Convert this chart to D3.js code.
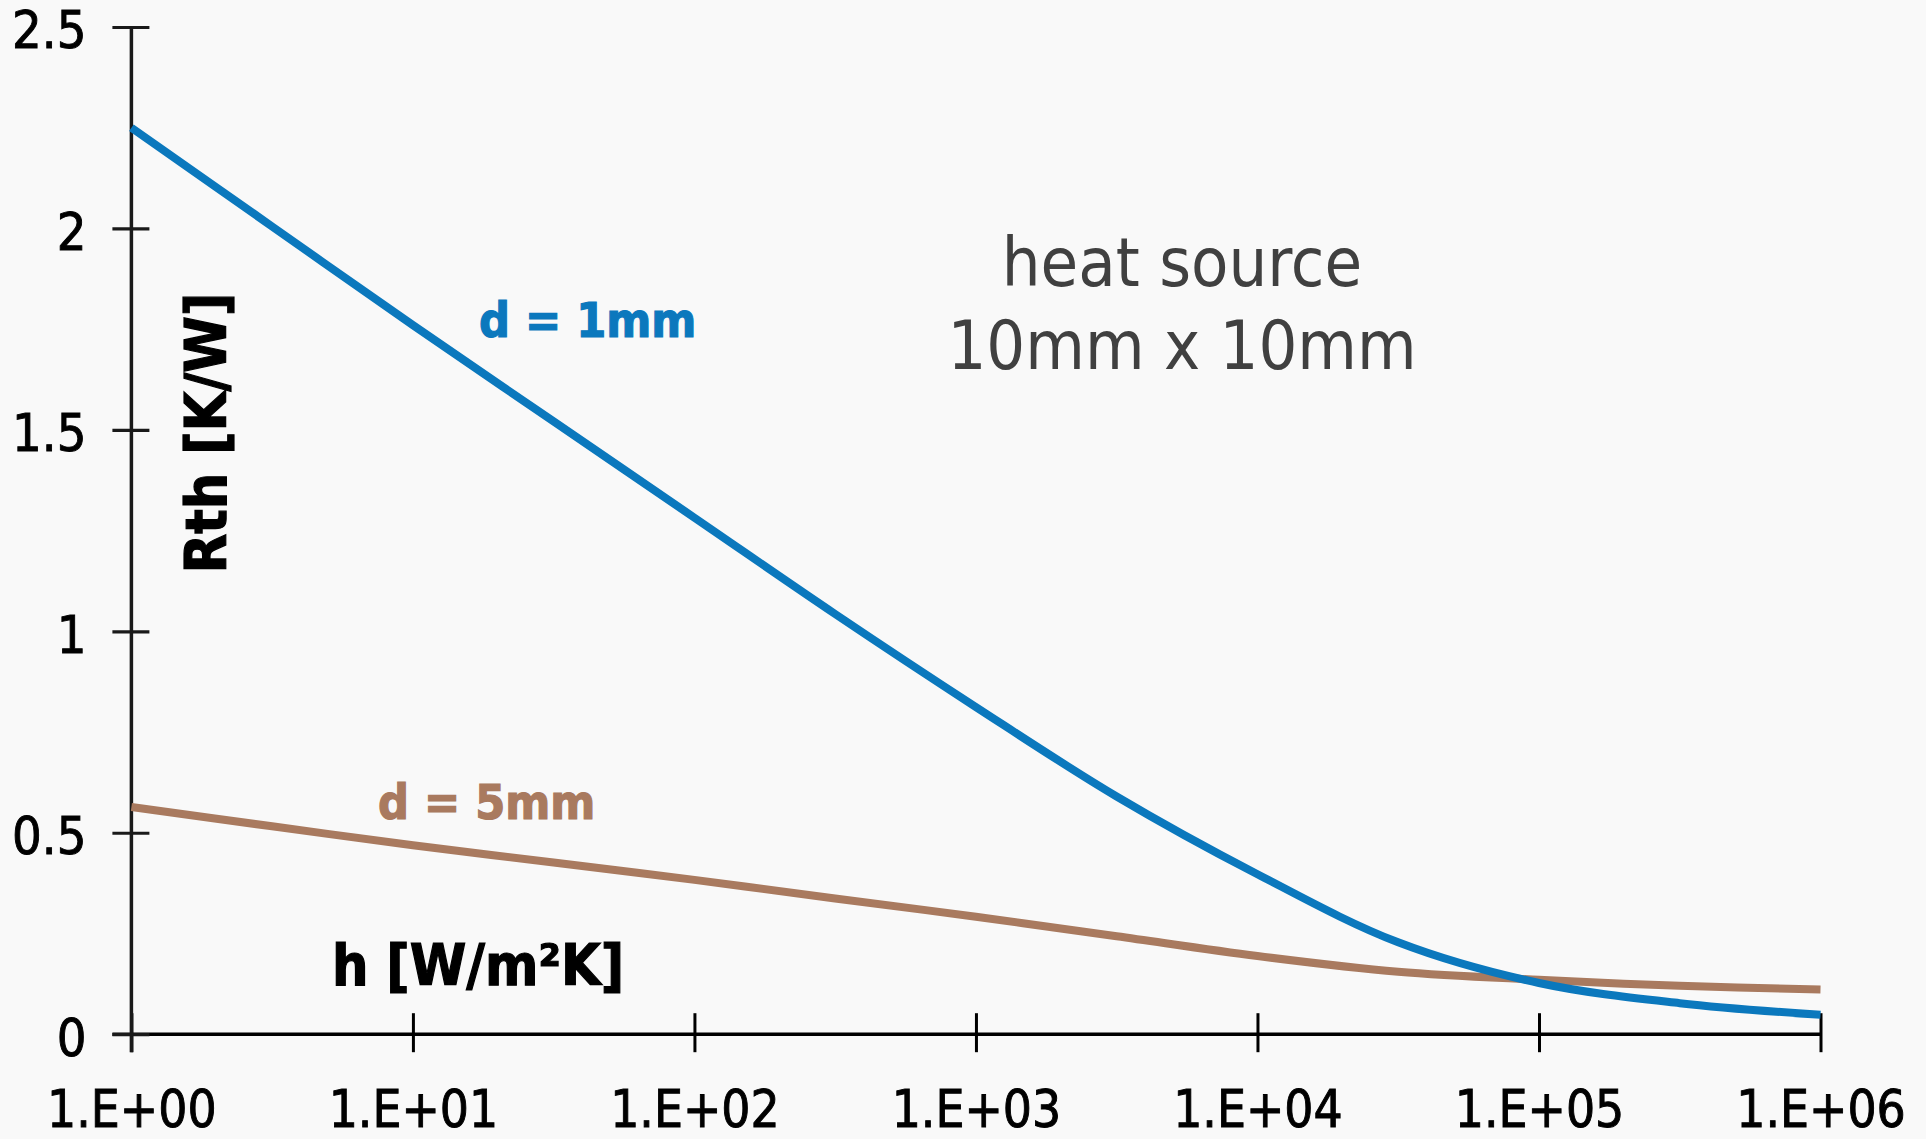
<!DOCTYPE html>
<html>
<head>
<meta charset="utf-8">
<script src="https://cdn.jsdelivr.net/npm/d3@7"></script>
<style>
  html, body { margin: 0; padding: 0; background: #f9f9f9; }
  svg { display: block; }
  text { font-family: "DejaVu Sans Condensed", "DejaVu Sans", Verdana, sans-serif; font-stretch: condensed; }
</style>
</head>
<body>
<svg id="chart" width="1926" height="1139"></svg>
<script>
// Heat transfer coefficient h [W/m²K] (log axis)
const hValues = [1, 3.16, 10, 31.6, 100, 316, 1000, 3160, 1e4, 3.16e4, 1e5, 3.16e5, 1e6];
// Thermal resistance Rth [K/W] for spreader thickness d = 1 mm
const rth1mm = [2.25, 2.005, 1.76, 1.521, 1.282, 1.043, 0.812, 0.59, 0.397, 0.228, 0.127, 0.077, 0.048];
// Thermal resistance Rth [K/W] for spreader thickness d = 5 mm
const rth5mm = [0.564, 0.516, 0.469, 0.426, 0.383, 0.337, 0.2915, 0.243, 0.194, 0.155, 0.135, 0.12, 0.111];

const xTicks = [1, 10, 100, 1000, 1e4, 1e5, 1e6];
const xTickLabels = ["1.E+00", "1.E+01", "1.E+02", "1.E+03", "1.E+04", "1.E+05", "1.E+06"];
const yTicks = [0, 0.5, 1, 1.5, 2, 2.5];
const yTickLabels = ["0", "0.5", "1", "1.5", "2", "2.5"];

const seriesNames = ["d = 1mm", "d = 5mm"];
const seriesColors = ["#0b78bd", "#a97a5f"];

const svg = d3.select("#chart");

const x = d3.scaleLog().domain([1, 1e6]).range([131.4, 1820.5]);
const y = d3.scaleLinear().domain([0, 2.5]).range([1034.2, 27]);

// ---- x axis: ticks crossing the baseline ----
const xAxis = svg.append("g")
  .attr("transform", `translate(0,${y(0)})`)
  .call(d3.axisBottom(x)
    .tickValues(xTicks)
    .tickFormat((d, i) => xTickLabels[i])
    .tickSizeOuter(0));
xAxis.select(".domain").remove();
xAxis.selectAll(".tick line")
  .attr("y1", -21).attr("y2", 18)
  .attr("stroke", "#000").attr("stroke-width", 3);
xAxis.selectAll(".tick text")
  .attr("y", 93).attr("dy", null)
  .attr("fill", "#000")
  .attr("stroke", "#000").attr("stroke-width", 0.9)
  .style("font-size", "51px");
xAxis.append("line")
  .attr("x1", x.range()[0] - 19).attr("x2", x.range()[1] + 1)
  .attr("y1", 0).attr("y2", 0)
  .attr("stroke", "#000").attr("stroke-width", 3.5);

// ---- y axis ----
const yAxis = svg.append("g")
  .attr("transform", `translate(${x(1)},0)`)
  .call(d3.axisLeft(y)
    .tickValues(yTicks)
    .tickFormat((d, i) => yTickLabels[i])
    .tickSizeOuter(0));
yAxis.select(".domain").remove();
yAxis.selectAll(".tick line")
  .attr("x1", -19).attr("x2", 18)
  .attr("stroke", "#1a1a1a").attr("stroke-width", 3.2);
yAxis.selectAll(".tick text")
  .attr("x", -45).attr("dy", "0.4em")
  .attr("fill", "#000")
  .attr("stroke", "#000").attr("stroke-width", 0.9)
  .style("font-size", "52px");
yAxis.append("line")
  .attr("x1", 0).attr("x2", 0)
  .attr("y1", y(2.5)).attr("y2", y(0) + 18)
  .attr("stroke", "#1a1a1a").attr("stroke-width", 3.5);

svg.selectAll(".tick text").attr("font-family", null);

// ---- curves ----
const line = d3.line()
  .x(d => x(d[0]))
  .y(d => y(d[1]))
  .curve(d3.curveCatmullRom.alpha(0.5));

const series = [rth1mm, rth5mm];
// d = 5mm is drawn first so the blue curve lies on top at the crossing
[1, 0].forEach(k => {
  svg.append("path")
    .datum(hValues.map((h, i) => [h, series[k][i]]))
    .attr("fill", "none")
    .attr("stroke", seriesColors[k])
    .attr("stroke-width", 8)
    .attr("d", line);
});

// ---- series labels ----
svg.append("text")
  .attr("x", 479).attr("y", 337)
  .attr("fill", seriesColors[0])
  .attr("stroke", seriesColors[0]).attr("stroke-width", 1.2)
  .style("font-size", "48px").style("font-weight", "bold")
  .text(seriesNames[0]);
svg.append("text")
  .attr("x", 378).attr("y", 819)
  .attr("fill", seriesColors[1])
  .attr("stroke", seriesColors[1]).attr("stroke-width", 1.2)
  .style("font-size", "48px").style("font-weight", "bold")
  .text(seriesNames[1]);

// ---- axis titles ----
svg.append("text")
  .attr("x", 332).attr("y", 985)
  .attr("fill", "#000")
  .attr("stroke", "#000").attr("stroke-width", 1.2)
  .style("font-size", "57px").style("font-weight", "bold")
  .text("h [W/m²K]");
svg.append("text")
  .attr("transform", "translate(226,433) rotate(-90)")
  .attr("text-anchor", "middle")
  .attr("fill", "#000")
  .attr("stroke", "#000").attr("stroke-width", 1.2)
  .style("font-size", "57px").style("font-weight", "bold")
  .text("Rth [K/W]");

// ---- annotation ----
const note = svg.append("text")
  .attr("text-anchor", "middle")
  .attr("fill", "#404040")
  .style("font-size", "68px");
note.append("tspan").attr("x", 1182).attr("y", 286).text("heat source");
note.append("tspan").attr("x", 1182).attr("y", 369).text("10mm x 10mm");
</script>
</body>
</html>
